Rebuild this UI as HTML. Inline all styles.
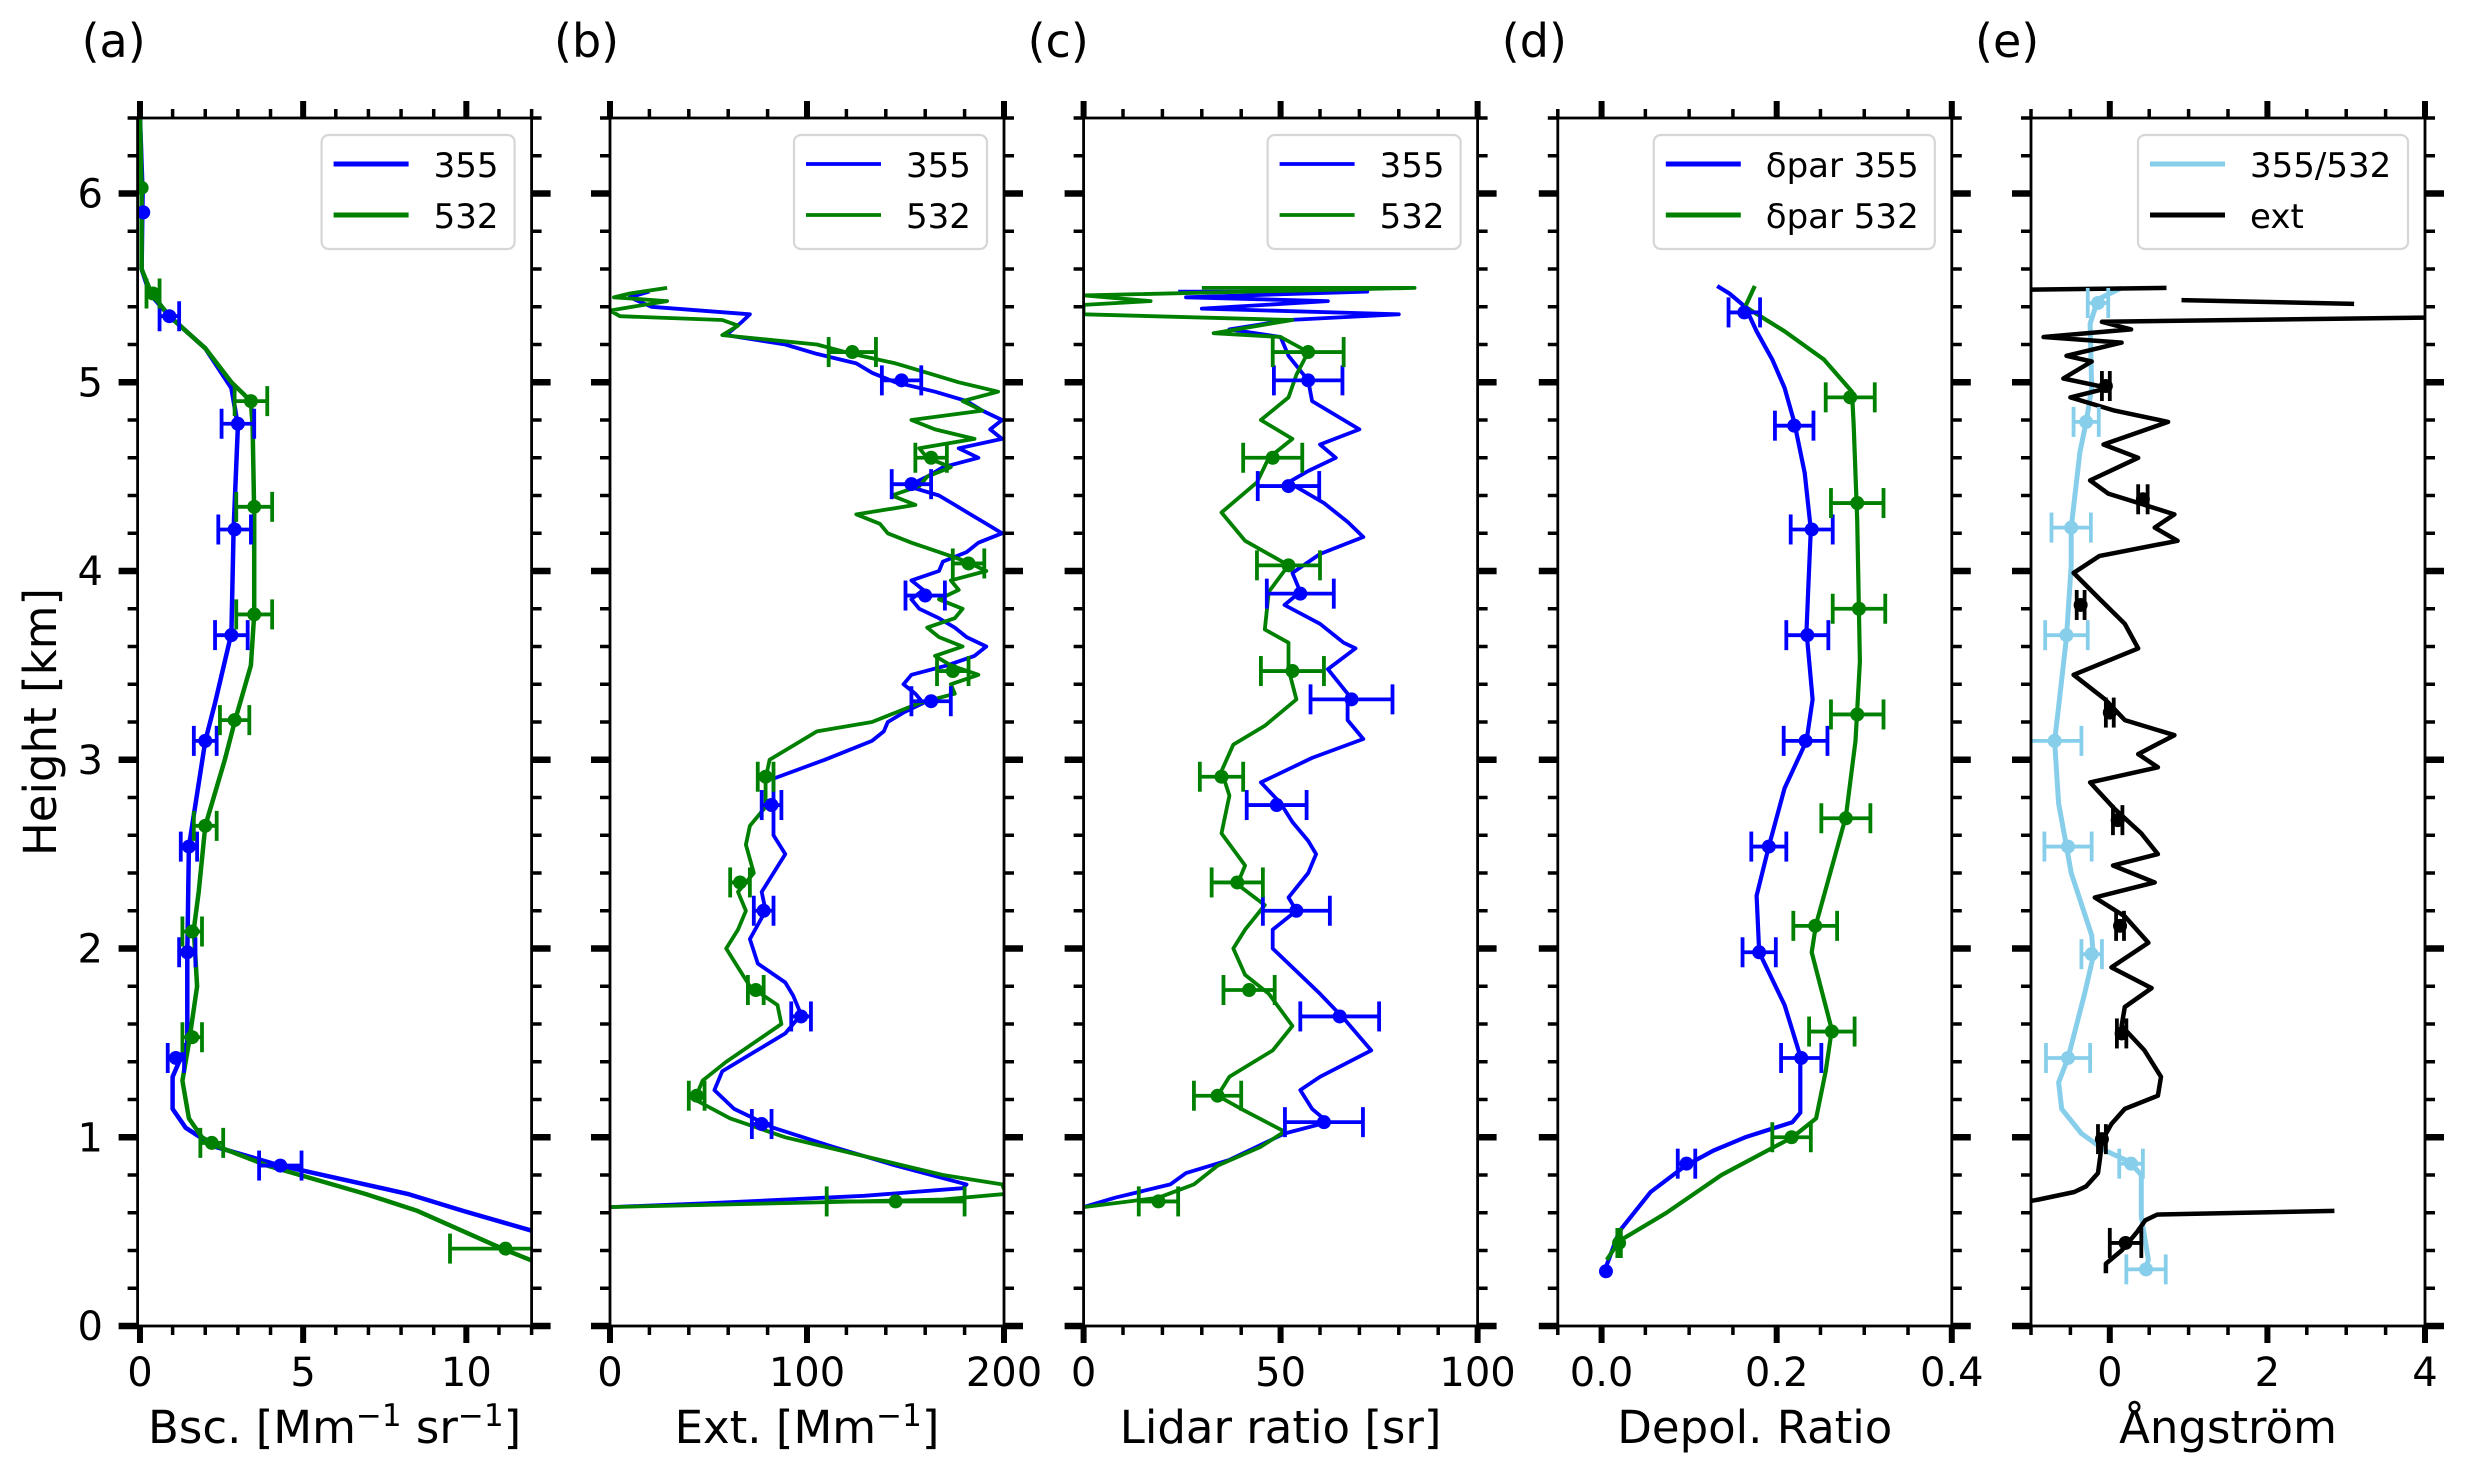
<!DOCTYPE html>
<html><head><meta charset="utf-8"><style>
html,body{margin:0;padding:0;background:#fff;}
svg{display:block;font-family:"DejaVu Sans","Liberation Sans",sans-serif;}
</style></head><body>
<svg id="chart" width="2466" height="1481" viewBox="0 0 2466 1481" xmlns="http://www.w3.org/2000/svg">
<rect x="0" y="0" width="2466" height="1481" fill="#fff"/>
</svg>
<script>
// ---------- DATA ----------
const bscH355 = [6.4,6.0,5.6,5.47,5.35,5.18,4.97,4.77,4.22,3.67,3.3,3.1,2.54,1.97,1.5,1.32,1.15,1.05,0.95,0.85,0.7,0.61,0.5];
const bsc355  = [0,0.08,0.05,0.3,0.9,2.0,2.8,3.0,2.87,2.8,2.3,2.0,1.5,1.45,1.45,1.0,1.0,1.4,2.3,4.3,8.2,9.9,12.1];
const bscH532 = [6.4,6.0,5.6,5.47,5.35,5.18,5.0,4.9,4.77,4.3,3.77,3.5,3.2,3.0,2.65,2.3,2.1,1.8,1.5,1.3,1.1,1.0,0.95,0.85,0.7,0.61,0.41,0.34];
const bsc532  = [0,0.05,0.05,0.35,0.9,2.0,2.8,3.4,3.45,3.5,3.5,3.4,2.9,2.6,2.0,1.8,1.65,1.75,1.5,1.3,1.5,1.9,2.4,3.9,6.9,8.5,11.1,12.1];
const bscErrH355 = [5.9,5.35,4.78,4.22,3.66,3.1,2.54,1.98,1.42,0.85];
const bscErr355V = [0.1,0.9,3.0,2.9,2.8,2.0,1.5,1.45,1.1,4.3];
const bscErr355E = [0,0.3,0.5,0.5,0.5,0.35,0.25,0.25,0.25,0.65];
const bscErrH532 = [6.03,5.47,4.9,4.34,3.77,3.21,2.65,2.09,1.53,0.97,0.41];
const bscErr532V = [0.05,0.4,3.4,3.5,3.5,2.9,2.0,1.6,1.6,2.2,11.2];
const bscErr532E = [0,0.2,0.5,0.55,0.55,0.45,0.35,0.3,0.3,0.35,1.7];

const extH355 = [5.48,5.45,5.40,5.36,5.32,5.25,5.2,5.15,5.1,5.05,5.0,4.95,4.9,4.85,4.8,4.75,4.7,4.65,4.6,4.55,4.5,4.45,4.4,4.35,4.3,4.25,4.2,4.15,4.1,4.05,4.0,3.95,3.9,3.85,3.8,3.75,3.7,3.65,3.6,3.55,3.5,3.45,3.4,3.35,3.3,3.25,3.2,3.15,3.1,3.0,2.9,2.75,2.6,2.5,2.4,2.3,2.2,2.05,1.92,1.82,1.75,1.65,1.55,1.45,1.35,1.25,1.15,1.05,0.95,0.85,0.75,0.73,0.69,0.65,0.63];
const ext355  = [20,10,21,71,67,59,89,105,125,133,145,165,181,189,199,193,199,177,187,169,161,151,167,175,183,191,199,187,181,169,167,153,159,153,157,167,175,181,191,185,171,153,149,155,159,149,141,139,133,109,83,83,83,89,83,77,79,71,75,89,93,97,89,73,57,53,63,83,113,145,181,179,129,49,0];
const extH532 = [5.5,5.47,5.45,5.43,5.38,5.35,5.33,5.3,5.25,5.2,5.15,5.1,5.05,5.0,4.95,4.9,4.85,4.8,4.75,4.7,4.65,4.6,4.55,4.5,4.45,4.4,4.35,4.3,4.25,4.2,4.15,4.1,4.05,4.0,3.95,3.9,3.85,3.8,3.75,3.7,3.65,3.6,3.55,3.5,3.45,3.4,3.35,3.3,3.25,3.2,3.15,3.1,3.0,2.9,2.75,2.65,2.55,2.4,2.3,2.2,2.1,2.0,1.9,1.8,1.7,1.6,1.5,1.4,1.3,1.2,1.1,1.0,0.9,0.8,0.75,0.7,0.67,0.63];
const ext532  = [29,10,2,29,0,5,57,65,57,105,123,145,161,177,197,179,189,153,165,185,157,161,173,161,157,143,155,125,137,141,153,167,181,191,173,177,167,179,175,161,167,179,165,173,187,173,175,157,145,133,105,97,81,79,79,71,69,73,65,69,65,59,65,71,85,87,73,59,47,43,61,89,129,169,199,201,169,0];
const extErrH355 = [5.01,4.46,3.87,3.31,2.76,2.2,1.64,1.07];
const extErr355V = [148,153,160,163,82,78,97,77];
const extErr355E = [10,10,10,10,5,5,5,5];
const extErrH532 = [5.16,4.6,4.04,3.47,2.91,2.35,1.78,1.22,0.66];
const extErr532V = [123,163,182,174,79,66,74,44,145];
const extErr532E = [12,8,8,8,4,5,4,4,35];

const lrH355 = [5.48,5.48,5.45,5.43,5.39,5.36,5.33,5.28,5.24,5.14,5.01,4.90,4.75,4.67,4.60,4.53,4.47,4.36,4.26,4.18,4.09,3.99,3.89,3.82,3.72,3.62,3.59,3.48,3.35,3.21,3.11,3.01,2.88,2.77,2.67,2.57,2.50,2.40,2.27,2.20,2.10,2.00,1.86,1.76,1.63,1.46,1.32,1.25,1.15,1.08,1.02,0.88,0.81,0.75,0.68,0.63];
const lr355  = [24,72,26,62,30,80,52,37,50,52,57,58,70,60,64,57,52,61,67,71,60,53,55,51,60,66,69,62,67,67,71,58,45,50,53,57,59,57,52,54,48,48,55,60,66,73,60,55,58,62,51,37,26,22,8,0];
const lrH532 = [5.50,5.50,5.46,5.43,5.41,5.36,5.33,5.26,5.24,5.16,5.04,4.92,4.80,4.70,4.60,4.47,4.31,4.16,4.03,3.89,3.69,3.62,3.48,3.32,3.18,3.08,2.94,2.81,2.61,2.44,2.34,2.23,2.10,2.00,1.86,1.76,1.59,1.46,1.32,1.22,1.15,1.03,0.95,0.85,0.75,0.68,0.63];
const lr532  = [30,84,0,17,0,0,53,33,50,57,54,52,45,53,47,44,35,41,52,47,46,52,52,54,46,38,35,37,35,41,39,46,41,38,41,47,53,48,37,34,40,51,45,34,28,19,0];
const lrErrH355 = [5.01,4.45,3.88,3.32,2.76,2.2,1.64,1.08];
const lrErr355V = [57,52,55,68,49,54,65,61];
const lrErr355E = [8.7,7.8,8.5,10.4,7.6,8.5,10,9.9];
const lrErrH532 = [5.16,4.6,4.03,3.47,2.91,2.35,1.78,1.22,0.66];
const lrErr532V = [57,48,52,53,35,39,42,34,19];
const lrErr532E = [9,7.5,8,8,5.5,6.5,6.5,6,5];

const dpH355 = [5.51,5.47,5.40,5.27,5.12,4.97,4.79,4.52,4.22,3.90,3.68,3.32,3.10,2.85,2.54,2.28,1.98,1.70,1.43,1.13,1.08,1.00,0.93,0.85,0.71,0.50,0.30];
const dp355  = [0.132,0.146,0.164,0.177,0.195,0.209,0.22,0.232,0.239,0.236,0.234,0.241,0.234,0.209,0.191,0.177,0.18,0.209,0.227,0.227,0.218,0.164,0.128,0.096,0.056,0.02,0.004];
const dpH532 = [5.51,5.40,5.27,5.12,4.95,4.77,4.27,3.52,3.10,2.70,2.13,1.98,1.57,1.35,1.10,1.00,0.80,0.60,0.45,0.35];
const dp532  = [0.175,0.164,0.209,0.254,0.286,0.288,0.292,0.295,0.29,0.279,0.245,0.24,0.263,0.256,0.245,0.218,0.137,0.074,0.02,0.006];
const dpErrH355 = [5.37,4.77,4.22,3.66,3.10,2.54,1.98,1.42,0.86,0.29];
const dpErr355V = [0.163,0.22,0.24,0.235,0.233,0.191,0.18,0.228,0.097,0.005];
const dpErr355E = [0.018,0.022,0.024,0.024,0.025,0.02,0.019,0.023,0.01,0];
const dpErrH532 = [4.92,4.36,3.80,3.24,2.69,2.12,1.56,1.00,0.44];
const dpErr532V = [0.284,0.292,0.294,0.292,0.279,0.244,0.263,0.217,0.02];
const dpErr532E = [0.028,0.03,0.03,0.03,0.028,0.025,0.026,0.022,0.002];

const angH = [5.50,5.44,5.31,4.97,4.79,4.63,4.23,4.03,3.65,3.28,3.10,2.77,2.54,2.40,2.07,1.96,1.76,1.42,1.29,1.15,1.02,0.93,0.87,0.80,0.58,0.35,0.30];
const angBsc = [0.15,-0.15,-0.25,-0.23,-0.3,-0.38,-0.49,-0.49,-0.55,-0.65,-0.7,-0.65,-0.55,-0.49,-0.23,-0.21,-0.32,-0.53,-0.65,-0.61,-0.36,-0.06,0.25,0.4,0.4,0.49,0.45];
const angExtH = [5.50,5.49,0,5.435,5.415,0,5.345,5.32,5.28,5.24,5.21,5.14,5.11,5.02,4.97,4.92,4.85,4.79,4.67,4.60,4.48,4.41,4.35,4.30,4.23,4.16,4.08,3.99,3.86,3.72,3.59,3.45,3.32,3.21,3.13,3.03,2.96,2.88,2.74,2.61,2.50,2.44,2.35,2.27,2.17,2.03,1.90,1.79,1.69,1.59,1.46,1.32,1.22,1.15,1.07,0.98,0.90,0.81,0.74,0.71,0.67,0.64,0,0.61,0.59,0.56,0.50,0.45,0.40,0.33,0.28];
const angExt = [0.72,-1.2,null,0.91,3.1,null,4.5,-0.1,0.27,-0.84,0.15,-0.55,-0.23,-0.59,-0.02,-0.5,0.06,0.74,-0.08,0.36,-0.25,-0.02,0.44,0.82,0.57,0.86,-0.13,-0.46,-0.15,0.19,0.36,-0.46,-0.06,0.19,0.82,0.36,0.61,-0.25,0.06,0.4,0.61,0.04,0.57,-0.19,0.19,0.49,0.02,0.53,0.19,0.15,0.44,0.65,0.61,0.19,0.02,-0.1,-0.12,-0.15,-0.3,-0.45,-0.9,-1.3,null,2.85,0.6,0.45,0.35,0.25,0.15,-0.05,-0.05];
const angErrH = [5.42,4.79,4.23,3.66,3.10,2.54,1.97,1.42,0.86,0.30];
const angErrV = [-0.15,-0.3,-0.49,-0.55,-0.7,-0.53,-0.23,-0.53,0.27,0.46];
const angErrE = [0.13,0.16,0.25,0.27,0.34,0.3,0.13,0.28,0.15,0.25];
const angExtErrH = [4.98,4.38,3.82,3.25,2.68,2.12,1.55,0.99,0.44];
const angExtErrV = [-0.05,0.42,-0.37,0.0,0.1,0.13,0.15,-0.1,0.2];
const angExtErrE = [0.05,0.06,0.05,0.05,0.06,0.05,0.06,0.05,0.2];

const yTickLabels = ['0','1','2','3','4','5','6'];
const aTickLabels = ['0','5','10'];
const bTickLabels = ['0','100','200'];
const cTickLabels = ['0','50','100'];
const dTickLabels = ['0.0','0.2','0.4'];
const eTickLabels = ['0','2','4'];

// ---------- LAYOUT ----------
const NS = 'http://www.w3.org/2000/svg';
const svg = document.getElementById('chart');
const TOP = 118, BOT = 1326, YMIN = 0, YMAX = 6.4, PW = 394;
function ys(h){ return BOT - (h - YMIN) / (YMAX - YMIN) * (BOT - TOP); }
function mk(tag, attrs, parent){ const e = document.createElementNS(NS, tag); for (const k in attrs) e.setAttribute(k, attrs[k]); (parent||svg).appendChild(e); return e; }
function txt(s, x, y, size, anchor, parent){ const t = mk('text', {x:x, y:y, 'font-size':size, 'text-anchor':anchor||'middle', fill:'#000'}, parent); t.textContent = s; return t; }

const panels = [
 {id:'a', left:137.6, xmin:-0.073, xmax:12.0, majors:[0,5,10], labels:aTickLabels, minorStep:1, title:[['Bsc. [Mm',0],['\u22121',1],[' sr',0],['\u22121',1],[']',0]]},
 {id:'b', left:610, xmin:0, xmax:200, majors:[0,100,200], labels:bTickLabels, minorStep:20, title:[['Ext. [Mm',0],['\u22121',1],[']',0]]},
 {id:'c', left:1083.6, xmin:0, xmax:100, majors:[0,50,100], labels:cTickLabels, minorStep:10, title:[['Lidar ratio [sr]',0]]},
 {id:'d', left:1557.8, xmin:-0.05, xmax:0.4, majors:[0,0.2,0.4], labels:dTickLabels, minorStep:0.05, title:[['Depol. Ratio',0]]},
 {id:'e', left:2031, xmin:-1, xmax:4, majors:[0,2,4], labels:eTickLabels, minorStep:0.5, title:[['\u00C5ngstr\u00F6m',0]]}
];
function xs(p, v){ return p.left + (v - p.xmin) / (p.xmax - p.xmin) * PW; }

function drawLine(p, g, H, V, color, w, name){
  let d = '', pen = false;
  const n = Math.min(H.length, V.length);
  for (let i = 0; i < n; i++){
    if (V[i] === null || V[i] === undefined){ pen = false; continue; }
    d += (pen ? 'L' : 'M') + xs(p, V[i]).toFixed(1) + ' ' + ys(H[i]).toFixed(1) + ' ';
    pen = true;
  }
  const el = mk('path', {d:d, fill:'none', stroke:color, 'stroke-width':w, 'stroke-linejoin':'round', 'clip-path':'url(#clip-'+p.id+')'}, g);
  
  
}
function drawErr(p, g, H, V, E, color, name){
  const n = Math.min(H.length, V.length, E.length);
  for (let i = 0; i < n; i++){
    const grp = mk('g', {'clip-path':'url(#clip-'+p.id+')'}, g);
    
    
    const y = ys(H[i]), x0 = xs(p, V[i]-E[i]), x1 = xs(p, V[i]+E[i]), xc = xs(p, V[i]);
    if (E[i] > 0){
      mk('line', {x1:x0, y1:y, x2:x1, y2:y, stroke:color, 'stroke-width':3.8}, grp);
      mk('line', {x1:x0, y1:y-15, x2:x0, y2:y+15, stroke:color, 'stroke-width':3.8}, grp);
      mk('line', {x1:x1, y1:y-15, x2:x1, y2:y+15, stroke:color, 'stroke-width':3.8}, grp);
    }
    mk('circle', {cx:xc, cy:y, r:7, fill:color}, grp);
  }
}
function drawLegend(p, g, entries, w, lw){
  const right = p.left + PW - 17, x0 = right - w;
  const lg = mk('g', {}, g);
  
  
  mk('rect', {x:x0, y:135, width:w, height:114, rx:7, fill:'#fff', 'fill-opacity':0.8, stroke:'#d6d6d6', 'stroke-width':2.2}, lg);
  entries.forEach((en, i) => {
    const y = 164 + i * 51;
    const le = mk('g', {}, lg);
    
    
    mk('line', {x1:x0+12, y1:y, x2:x0+87, y2:y, stroke:en[1], 'stroke-width':lw}, le);
    txt(en[0], x0+112, y+13, 34, 'start', le);
  });
}

const defs = mk('defs', {});
panels.forEach(p => {
  const cp = mk('clipPath', {id:'clip-'+p.id}, defs);
  mk('rect', {x:p.left, y:TOP, width:PW, height:BOT-TOP}, cp);
});

panels.forEach((p, pi) => {
  const g = mk('g', {});
  
  
  if (p.id === 'a'){
    drawLine(p, g, bscH355, bsc355, '#0000ff', 4.5, 'bsc-355-line');
    drawLine(p, g, bscH532, bsc532, '#008000', 4.5, 'bsc-532-line');
    drawErr(p, g, bscErrH355, bscErr355V, bscErr355E, '#0000ff', 'bsc-355-errorbar');
    drawErr(p, g, bscErrH532, bscErr532V, bscErr532E, '#008000', 'bsc-532-errorbar');
    drawLegend(p, g, [['355','#0000ff'],['532','#008000']], 193, 5);
  } else if (p.id === 'b'){
    drawLine(p, g, extH355, ext355, '#0000ff', 3.8, 'ext-355-line');
    drawLine(p, g, extH532, ext532, '#008000', 3.8, 'ext-532-line');
    drawErr(p, g, extErrH355, extErr355V, extErr355E, '#0000ff', 'ext-355-errorbar');
    drawErr(p, g, extErrH532, extErr532V, extErr532E, '#008000', 'ext-532-errorbar');
    drawLegend(p, g, [['355','#0000ff'],['532','#008000']], 193, 3.8);
  } else if (p.id === 'c'){
    drawLine(p, g, lrH355, lr355, '#0000ff', 3.8, 'lr-355-line');
    drawLine(p, g, lrH532, lr532, '#008000', 3.8, 'lr-532-line');
    drawErr(p, g, lrErrH355, lrErr355V, lrErr355E, '#0000ff', 'lr-355-errorbar');
    drawErr(p, g, lrErrH532, lrErr532V, lrErr532E, '#008000', 'lr-532-errorbar');
    drawLegend(p, g, [['355','#0000ff'],['532','#008000']], 193, 3.8);
  } else if (p.id === 'd'){
    drawLine(p, g, dpH355, dp355, '#0000ff', 4.2, 'depol-355-line');
    drawLine(p, g, dpH532, dp532, '#008000', 4.2, 'depol-532-line');
    drawErr(p, g, dpErrH355, dpErr355V, dpErr355E, '#0000ff', 'depol-355-errorbar');
    drawErr(p, g, dpErrH532, dpErr532V, dpErr532E, '#008000', 'depol-532-errorbar');
    drawLegend(p, g, [['\u03B4par 355','#0000ff'],['\u03B4par 532','#008000']], 281, 5);
  } else {
    drawLine(p, g, angH, angBsc, '#87ceeb', 5, 'angstrom-355-532-line');
    drawLine(p, g, angExtH, angExt, '#000000', 4.5, 'angstrom-ext-line');
    drawErr(p, g, angErrH, angErrV, angErrE, '#87ceeb', 'angstrom-bsc-errorbar');
    drawErr(p, g, angExtErrH, angExtErrV, angExtErrE, '#000000', 'angstrom-ext-errorbar');
    drawLegend(p, g, [['355/532','#87ceeb'],['ext','#000000']], 270, 5);
  }
  const fr = mk('rect', {x:p.left, y:TOP, width:PW, height:BOT-TOP, fill:'none', stroke:'#000', 'stroke-width':2.8}, g);
  
  
  const tg = mk('g', {stroke:'#000'}, g);
  
  
  const R = p.left + PW;
  for (let k = 0; k <= 32; k++){
    const h = k * 0.2; if (h > YMAX + 1e-6) break;
    const y = ys(h), major = (k % 5 === 0);
    const L = major ? 19 : 10, W = major ? 6.5 : 3.5;
    mk('line', {x1:p.left-L, y1:y, x2:p.left, y2:y, 'stroke-width':W}, tg);
    mk('line', {x1:R, y1:y, x2:R+L, y2:y, 'stroke-width':W}, tg);
  }
  const nMin = Math.round((p.xmax - Math.ceil(p.xmin/p.minorStep)*p.minorStep)/p.minorStep);
  const start = Math.ceil((p.xmin-1e-9)/p.minorStep);
  for (let k = start; k <= start + nMin + 1; k++){
    const v = k * p.minorStep; if (v > p.xmax + 1e-9 || v < p.xmin - 1e-9) continue;
    const isMajor = p.majors.some(m => Math.abs(m - v) < 1e-9);
    const x = xs(p, v), L = isMajor ? 17 : 9, W = isMajor ? 6 : 3.5;
    mk('line', {x1:x, y1:TOP-L, x2:x, y2:TOP, 'stroke-width':W}, tg);
    mk('line', {x1:x, y1:BOT, x2:x, y2:BOT+L, 'stroke-width':W}, tg);
  }
  p.majors.forEach((m, i) => {
    const t = txt(p.labels[i], xs(p, m), 1386, 40, 'middle', g);
    
    
  });
  const xt = mk('text', {x:p.left + PW/2, y:1443, 'font-size':45, 'text-anchor':'middle', fill:'#000'}, g);
  
  
  p.title.forEach(part => {
    const ts = mk('tspan', {}, xt);
    if (part[1]){ ts.setAttribute('font-size', 31); ts.setAttribute('dy', -17); }
    else if (xt.childNodes.length > 1 && xt.childNodes[xt.childNodes.length-2].getAttribute('dy') === '-17'){ ts.setAttribute('dy', 17); }
    ts.textContent = part[0];
  });
  const pl = txt('(' + p.id + ')', p.left - 56, 57, 46, 'start', g);
  
  
  if (pi === 0){
    yTickLabels.forEach((s, i) => {
      const t = txt(s, 103, ys(i) + 14, 40, 'end', g);
      
      
    });
  }
});
const yt = txt('Height [km]', 0, 0, 45, 'middle');
yt.setAttribute('transform', 'translate(56,722) rotate(-90)');


</script>
</body></html>
